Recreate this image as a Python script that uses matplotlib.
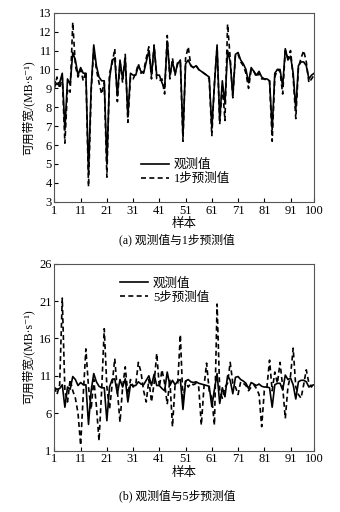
import numpy as np
import matplotlib
matplotlib.use("Agg")
import matplotlib.pyplot as plt

plt.rcParams['font.family'] = ['Liberation Serif', 'Noto Sans CJK SC', 'DejaVu Sans']

# sample index
samples = np.arange(1, 101)

# observed bandwidth (same series in both panels)
observed = [9.4, 9.2, 9.3, 9.8, 6.8, 9.5, 9.2, 10.9, 10.5, 9.7,
            10.1, 9.8, 9.8, 4.5, 9.0, 11.3, 10.2, 9.6, 9.4, 9.4,
            5.0, 9.5, 10.5, 10.6, 8.6, 10.5, 9.5, 10.6, 7.5, 9.8,
            9.7, 9.7, 10.2, 9.9, 9.8, 10.4, 11.0, 9.7, 11.2, 9.7,
            9.7, 9.3, 9.0, 11.5, 9.7, 10.4, 9.8, 10.3, 10.5, 6.5,
            10.3, 10.5, 10.2, 10.1, 10.2, 10.0, 9.9, 9.8, 9.7, 9.6,
            6.9, 9.2, 11.3, 7.3, 9.4, 8.2, 11.0, 10.4, 8.6, 10.8,
            10.9, 10.5, 10.3, 10.0, 9.3, 10.1, 9.9, 9.7, 9.9, 9.6,
            9.5, 9.5, 9.4, 6.8, 9.8, 10.0, 10.0, 9.1, 11.1, 10.5,
            10.7, 9.8, 7.9, 10.2, 10.4, 10.4, 10.2, 9.5, 9.7, 9.8]

# 1-step prediction
pred1 = [9.0, 9.6, 9.0, 9.6, 6.1, 9.0, 8.8, 12.5, 10.2, 9.6,
         10.0, 9.4, 9.9, 3.8, 8.8, 11.1, 10.0, 9.3, 8.7, 9.3,
         4.3, 9.8, 10.3, 11.1, 8.3, 10.4, 9.3, 10.8, 7.2, 9.6,
         9.5, 9.8, 10.3, 9.8, 9.9, 10.6, 11.2, 9.5, 11.3, 9.5,
         9.4, 9.5, 8.7, 11.8, 9.5, 10.6, 9.7, 10.4, 10.4, 6.2,
         10.6, 11.2, 10.2, 10.1, 10.2, 10.0, 9.9, 9.8, 9.7, 9.5,
         6.5, 9.3, 11.2, 7.1, 9.2, 7.3, 12.4, 10.6, 8.5, 10.8,
         10.8, 10.4, 10.2, 9.8, 9.0, 10.0, 9.9, 9.6, 9.8, 9.5,
         9.5, 9.4, 9.4, 6.2, 9.6, 10.0, 9.9, 8.7, 11.0, 10.6,
         11.0, 9.6, 7.4, 10.1, 10.6, 11.0, 10.4, 9.3, 9.5, 9.7]

# 5-step prediction
pred5 = [9.5, 8.5, 9.8, 21.4, 9.0, 7.5, 10.5, 9.0, 8.0, 6.0,
         1.7, 8.5, 14.6, 9.5, 6.5, 10.5, 7.0, 2.3, 9.0, 17.3,
         9.5, 6.5, 9.8, 13.3, 9.0, 4.8, 9.5, 12.2, 8.5, 10.5,
         9.5, 9.8, 12.8, 11.5, 9.0, 7.5, 10.5, 7.5, 10.0, 14.0,
         9.5, 11.8, 10.0, 7.2, 10.5, 4.2, 9.8, 10.0, 16.5, 7.5,
         10.3, 9.5, 10.0, 9.8, 10.0, 9.5, 4.4, 9.5, 12.7, 9.0,
         8.0, 4.4, 20.6, 9.0, 8.0, 9.5, 10.0, 12.8, 10.0, 9.5,
         8.5, 10.2, 10.0, 9.7, 9.0, 9.5, 9.8, 9.3, 8.5, 4.2,
         9.0, 9.5, 13.1, 9.0, 11.5, 10.0, 12.8, 9.5, 5.3, 9.5,
         11.0, 14.7, 9.5, 8.5, 8.0, 9.8, 11.8, 10.0, 9.5, 10.2]

xticks = [1, 11, 21, 31, 41, 51, 61, 71, 81, 91, 100]
yticks_a = list(range(3, 14))
yticks_b = [1, 6, 11, 16, 21, 26]

fig = plt.figure(figsize=(3.4, 5.12), dpi=100)
ax1 = fig.add_axes([0.160, 0.606, 0.764, 0.369])
ax2 = fig.add_axes([0.160, 0.120, 0.764, 0.365])

ylabel = '可用带宽/(MB·s⁻¹)'

def style(ax, yticks):
    ax.set_xlim(1, 100)
    ax.set_xticks(xticks)
    ax.set_yticks(yticks)
    ax.set_ylim(yticks[0], yticks[-1])
    ax.tick_params(direction='in', length=3, width=0.8, labelsize=9, pad=2)
    for s in ax.spines.values():
        s.set_color('#555555')
        s.set_linewidth(0.8)
    ax.set_xlabel('样本', fontsize=9, labelpad=1)
    ax.set_ylabel(ylabel, fontsize=8.5, labelpad=3)

ax1.plot(samples, observed, color='black', lw=1.2, label='观测值')
ax1.plot(samples, pred1, color='black', lw=1.2, ls=(0, (3, 2)), label='1步预测值')
style(ax1, yticks_a)
ax1.legend(loc='upper left', bbox_to_anchor=(0.31, 0.26), frameon=False,
           fontsize=9, handlelength=2.2, handletextpad=0.4, borderpad=0,
           labelspacing=0.15)
fig.text(0.52, 0.525, '(a) 观测值与1步预测值', ha='center', fontsize=8.5)

ax2.plot(samples, observed, color='black', lw=1.2, label='观测值')
ax2.plot(samples, pred5, color='black', lw=1.2, ls=(0, (3, 2)), label='5步预测值')
style(ax2, yticks_b)
ax2.legend(loc='upper left', bbox_to_anchor=(0.23, 0.96), frameon=False,
           fontsize=9, handlelength=2.2, handletextpad=0.4, borderpad=0,
           labelspacing=0.15)
fig.text(0.52, 0.025, '(b) 观测值与5步预测值', ha='center', fontsize=8.5)

fig.savefig('out.png', dpi=100)
